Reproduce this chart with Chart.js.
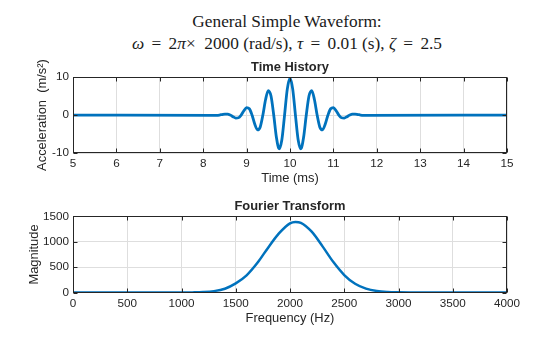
<!DOCTYPE html>
<html>
<head>
<meta charset="utf-8">
<script src="https://cdn.jsdelivr.net/npm/chart.js@4.4.1/dist/chart.umd.min.js"></script>
<style>
  html, body { margin: 0; padding: 0; background: #fff; }
  #page { position: relative; width: 560px; height: 337px; overflow: hidden; }
  #mainTitle {
    position: absolute; left: 0; top: 11px; width: 574px;
    text-align: center; font-family: 'Liberation Serif', 'Times New Roman', serif;
    font-size: 17.3px; line-height: 21.7px; color: #1a1a1a;
  }
  #mainTitle .eq { padding: 0 3px; }
  canvas { position: absolute; left: 0; }
</style>
</head>
<body>
<div id="page">
  <div id="mainTitle">General Simple Waveform:<br><i>ω</i> <span class="eq">=</span> 2<i>π</i>×&nbsp;&nbsp;2000 (rad/s), <i>τ</i> <span class="eq">=</span> 0.01 (s), <i>ζ</i> <span class="eq">=</span> 2.5</div>
  <canvas id="timeChart" width="560" height="135" style="top:52px"></canvas>
  <canvas id="fftChart" width="560" height="132" style="top:195px"></canvas>
</div>
<script>
// time history (ms, m/s^2)
const timeMs = [5, 8.25, 8.3125, 8.375, 8.4375, 8.5, 8.5625, 8.625, 8.6875, 8.75, 8.8125, 8.875, 8.9375,
  9, 9.0625, 9.125, 9.1875, 9.25, 9.3125, 9.375, 9.4375, 9.5, 9.5625, 9.625, 9.6875, 9.75, 9.8125, 9.875, 9.9375,
  10, 10.0625, 10.125, 10.1875, 10.25, 10.3125, 10.375, 10.4375, 10.5, 10.5625, 10.625, 10.6875, 10.75, 10.8125,
  10.875, 10.9375, 11, 11.0625, 11.125, 11.1875, 11.25, 11.3125, 11.375, 11.4375, 11.5, 11.5625, 11.625, 11.6875,
  11.75, 15];
const accel = [0, -0.07, -0.07, 0, 0.14, 0.26, 0.25, 0, -0.43, -0.79, -0.71, 0, 1.12,
  1.94, 1.66, 0, -2.36, -3.9, -3.19, 0, 4.09, 6.43, 5.0, 0, -5.94, -8.9, -6.5, 0, 6.82,
  9.7, 6.82, 0, -6.5, -8.9, -5.94, 0, 5.0, 6.43, 4.09, 0, -3.19, -3.9, -2.36,
  0, 1.66, 1.94, 1.12, 0, -0.71, -0.79, -0.43, 0, 0.25, 0.26, 0.14, 0, -0.07,
  -0.07, 0];

// fourier magnitude
const freqHz = [0, 1000, 1100, 1200, 1300, 1400, 1500, 1600, 1700, 1800, 1900, 2000, 2050, 2100,
  2200, 2300, 2400, 2500, 2600, 2700, 2800, 2900, 3000, 3100, 4000];
const magnitude = [0, 0, 2, 8, 27, 75, 180, 338, 585, 890, 1170, 1365, 1392, 1375,
  1200, 910, 600, 345, 172, 76, 28, 9, 3, 1, 0];

const timeTicks = { min: 5, max: 15, step: 1 };
const accelTicks = { min: -10, max: 10, step: 10 };
const freqTicks = { min: 0, max: 4000, step: 500 };
const magTicks = { min: 0, max: 1500, step: 500 };

const FONT = "'Liberation Sans', Arial, Helvetica, sans-serif";
const INK = '#262626';
const BLUE = '#0072BD';

// matlab style box with inward ticks
const matlabBox = {
  id: 'matlabBox',
  afterDraw(chart) {
    const { ctx, chartArea: a, scales: { x, y } } = chart;
    const L = Math.round(a.left) + 0.5, R = Math.round(a.right) - 0.5;
    const T = Math.round(a.top) + 0.5, B = Math.round(a.bottom) - 0.5;
    ctx.save();
    ctx.strokeStyle = INK;
    ctx.lineWidth = 1;
    ctx.beginPath();
    x.ticks.forEach(t => {
      const px = Math.round(x.getPixelForValue(t.value)) + 0.5;
      ctx.moveTo(px, B); ctx.lineTo(px, B - 4);
      ctx.moveTo(px, T); ctx.lineTo(px, T + 4);
    });
    y.ticks.forEach(t => {
      const py = Math.round(y.getPixelForValue(t.value)) + 0.5;
      ctx.moveTo(L, py); ctx.lineTo(L + 4, py);
      ctx.moveTo(R, py); ctx.lineTo(R - 4, py);
    });
    ctx.stroke();
    ctx.strokeRect(L, T, R - L, B - T);
    ctx.restore();
  }
};

function makeChart(id, xs, ys, opt) {
  return new Chart(document.getElementById(id), {
    type: 'line',
    data: {
      datasets: [{
        data: xs.map((v, i) => ({ x: v, y: ys[i] })),
        borderColor: BLUE,
        borderWidth: opt.lineWidth,
        pointRadius: 0,
        cubicInterpolationMode: 'monotone',
        fill: false
      }]
    },
    options: {
      responsive: false,
      animation: false,
      events: [],
      layout: { padding: { left: 0, right: 53, top: 0, bottom: 0 } },
      plugins: {
        legend: { display: false },
        tooltip: { enabled: false },
        title: {
          display: true, text: opt.title, fullSize: false, color: INK,
          font: { family: FONT, size: 12.9, weight: 'bold', lineHeight: 1.2 },
          padding: opt.titlePad
        }
      },
      scales: {
        x: {
          type: 'linear', min: opt.xt.min, max: opt.xt.max,
          ticks: { stepSize: opt.xt.step, color: INK, padding: 4, maxRotation: 0, autoSkip: false,
                   callback: v => String(v),
                   font: { family: FONT, size: 11.7, lineHeight: 1.2 } },
          grid: { color: '#dedede', drawTicks: false },
          border: { display: false },
          title: { display: true, text: opt.xLabel, color: INK,
                   font: { family: FONT, size: 12.9, lineHeight: 1.2 }, padding: { top: 0, bottom: 0.8 } },
          afterFit: s => { s.height = opt.xHeight; }
        },
        y: {
          type: 'linear', min: opt.yt.min, max: opt.yt.max,
          ticks: { stepSize: opt.yt.step, color: INK, padding: 4,
                   callback: v => String(v),
                   font: { family: FONT, size: 11.7, lineHeight: 1.2 } },
          grid: { color: '#dedede', drawTicks: false },
          border: { display: false },
          title: { display: true, text: opt.yLabel, color: INK,
                   font: { family: FONT, size: 12.9, lineHeight: 1.2 }, padding: { top: opt.yTitleX, bottom: 0 } },
          afterFit: s => { s.width = 73; }
        }
      }
    },
    plugins: [matlabBox]
  });
}

makeChart('timeChart', timeMs, accel, {
  title: 'Time History', titlePad: { top: 7.6, bottom: 2 },
  xt: timeTicks, yt: accelTicks, xLabel: 'Time (ms)', yLabel: 'Acceleration  (m/s²)',
  xHeight: 34, yTitleX: 34.3, lineWidth: 2.8
});

makeChart('fftChart', freqHz, magnitude, {
  title: 'Fourier Transform', titlePad: { top: 4, bottom: 2 },
  xt: freqTicks, yt: magTicks, xLabel: 'Frequency (Hz)', yLabel: 'Magnitude',
  xHeight: 34.5, yTitleX: 26.3, lineWidth: 2.5
});
</script>
</body>
</html>
